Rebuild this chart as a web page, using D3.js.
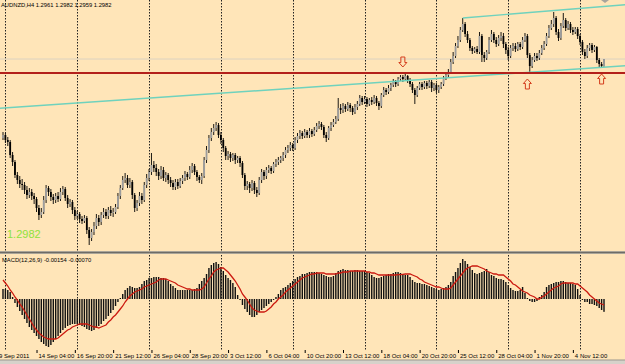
<!DOCTYPE html>
<html>
<head>
<meta charset="utf-8">
<script src="https://cdnjs.cloudflare.com/ajax/libs/d3/7.8.5/d3.min.js"></script>
<style>
  html, body { margin: 0; padding: 0; background: #ffe5b8; }
  svg { display: block; }
</style>
</head>
<body>
<div id="container"></div>
<script>
const symbolTitle = 'AUDNZD,H4  1.2961 1.2982 1.2959 1.2982';
const macdTitle = 'MACD(12,26,9) -0.00154 -0.00070';
const priceMark = '1.2982';

// H4 bars, 9 Sep 2011 20:00 .. 8 Nov 2011 16:00
const firstOpen = 1.2745;
const closes = [
  1.2754,1.2739,1.2733,1.2694,1.2673,1.2634,1.2619,1.2607,1.2604,1.2589,
  1.2574,1.2583,1.2571,1.2562,1.2535,1.2514,1.2523,1.2559,1.2595,1.2583,
  1.2568,1.2559,1.2571,1.2562,1.2583,1.2592,1.2565,1.2547,1.2553,1.2529,
  1.2511,1.2517,1.2502,1.2496,1.2505,1.2469,1.2445,1.2463,1.2481,1.2505,
  1.2493,1.2514,1.2523,1.2511,1.2529,1.2520,1.2523,1.2538,1.2571,1.2595,
  1.2619,1.2625,1.2604,1.2613,1.2574,1.2535,1.2550,1.2571,1.2559,1.2604,
  1.2625,1.2643,1.2664,1.2655,1.2643,1.2631,1.2649,1.2625,1.2634,1.2619,
  1.2610,1.2598,1.2613,1.2601,1.2616,1.2625,1.2637,1.2628,1.2649,1.2661,
  1.2643,1.2628,1.2619,1.2631,1.2679,1.2709,1.2745,1.2763,1.2775,1.2784,
  1.2754,1.2739,1.2715,1.2691,1.2697,1.2685,1.2694,1.2679,1.2685,1.2670,
  1.2634,1.2601,1.2607,1.2595,1.2610,1.2589,1.2580,1.2619,1.2643,1.2631,
  1.2649,1.2655,1.2646,1.2667,1.2673,1.2679,1.2685,1.2694,1.2709,1.2715,
  1.2724,1.2715,1.2739,1.2751,1.2760,1.2751,1.2763,1.2754,1.2766,1.2757,
  1.2769,1.2781,1.2787,1.2778,1.2754,1.2745,1.2775,1.2784,1.2793,1.2802,
  1.2835,1.2829,1.2841,1.2832,1.2844,1.2835,1.2823,1.2838,1.2847,1.2865,
  1.2853,1.2862,1.2847,1.2859,1.2853,1.2865,1.2850,1.2841,1.2874,1.2889,
  1.2883,1.2895,1.2904,1.2913,1.2907,1.2922,1.2928,1.2922,1.2931,1.2919,
  1.2907,1.2889,1.2874,1.2895,1.2907,1.2898,1.2910,1.2901,1.2913,1.2895,
  1.2904,1.2889,1.2898,1.2907,1.2925,1.2934,1.2943,1.2973,1.2991,1.3021,
  1.3039,1.3069,1.3087,1.3057,1.3039,1.3015,1.3006,1.3012,1.3003,1.3051,
  1.2994,1.2985,1.3003,1.3039,1.3057,1.3039,1.3027,1.3045,1.3051,1.3027,
  1.3009,1.2991,1.3015,1.3021,1.3012,1.3027,1.3018,1.3039,1.3051,1.2994,
  1.2961,1.2979,1.2991,1.2985,1.3000,1.3015,1.3027,1.3051,1.3075,1.3087,
  1.3105,1.3063,1.3045,1.3081,1.3099,1.3075,1.3087,1.3069,1.3063,1.3072,
  1.3051,1.3033,1.3003,1.2991,1.3015,1.3024,1.3009,1.3018,1.2979,1.2967,
  1.2961,1.2982
];
const highs = [
  1.2763,1.2760,1.2748,1.2739,1.2703,1.2679,1.2643,1.2631,1.2622,1.2613,
  1.2601,1.2595,1.2592,1.2580,1.2568,1.2544,1.2535,1.2571,1.2604,1.2601,
  1.2592,1.2577,1.2580,1.2583,1.2595,1.2601,1.2598,1.2574,1.2562,1.2559,
  1.2538,1.2526,1.2523,1.2511,1.2514,1.2511,1.2478,1.2472,1.2493,1.2517,
  1.2514,1.2523,1.2535,1.2532,1.2538,1.2541,1.2535,1.2547,1.2580,1.2604,
  1.2631,1.2640,1.2634,1.2625,1.2619,1.2580,1.2559,1.2583,1.2580,1.2613,
  1.2637,1.2652,1.2700,1.2676,1.2667,1.2652,1.2661,1.2658,1.2643,1.2640,
  1.2628,1.2619,1.2622,1.2622,1.2625,1.2634,1.2646,1.2643,1.2661,1.2670,
  1.2667,1.2649,1.2634,1.2640,1.2688,1.2721,1.2754,1.2775,1.2787,1.2793,
  1.2790,1.2763,1.2745,1.2721,1.2706,1.2703,1.2700,1.2700,1.2691,1.2691,
  1.2676,1.2640,1.2616,1.2613,1.2619,1.2616,1.2598,1.2628,1.2652,1.2649,
  1.2658,1.2664,1.2661,1.2673,1.2682,1.2688,1.2691,1.2703,1.2718,1.2724,
  1.2733,1.2730,1.2748,1.2760,1.2769,1.2766,1.2772,1.2769,1.2775,1.2772,
  1.2778,1.2790,1.2796,1.2793,1.2784,1.2763,1.2781,1.2793,1.2802,1.2811,
  1.2865,1.2847,1.2850,1.2847,1.2853,1.2850,1.2841,1.2847,1.2856,1.2874,
  1.2871,1.2871,1.2868,1.2865,1.2868,1.2874,1.2871,1.2856,1.2880,1.2898,
  1.2895,1.2904,1.2910,1.2922,1.2919,1.2928,1.2934,1.2934,1.2937,1.2934,
  1.2925,1.2913,1.2895,1.2901,1.2913,1.2913,1.2916,1.2916,1.2919,1.2919,
  1.2910,1.2910,1.2904,1.2913,1.2931,1.2940,1.2952,1.2982,1.3003,1.3030,
  1.3051,1.3078,1.3105,1.3093,1.3066,1.3045,1.3021,1.3018,1.3021,1.3063,
  1.3057,1.3003,1.3009,1.3048,1.3069,1.3063,1.3048,1.3054,1.3063,1.3060,
  1.3033,1.3018,1.3024,1.3030,1.3030,1.3033,1.3033,1.3048,1.3060,1.3057,
  1.3000,1.2988,1.3000,1.3000,1.3009,1.3024,1.3036,1.3060,1.3084,1.3099,
  1.3123,1.3111,1.3072,1.3090,1.3120,1.3105,1.3096,1.3093,1.3078,1.3078,
  1.3078,1.3057,1.3039,1.3012,1.3024,1.3030,1.3030,1.3024,1.3021,1.2985,
  1.2973,1.2982
];
const lows = [
  1.2739,1.2730,1.2721,1.2685,1.2661,1.2625,1.2607,1.2595,1.2589,1.2577,
  1.2562,1.2565,1.2559,1.2547,1.2523,1.2499,1.2505,1.2517,1.2550,1.2571,
  1.2556,1.2547,1.2550,1.2553,1.2556,1.2574,1.2556,1.2535,1.2538,1.2517,
  1.2499,1.2502,1.2490,1.2487,1.2490,1.2457,1.2424,1.2436,1.2454,1.2472,
  1.2481,1.2484,1.2505,1.2502,1.2502,1.2511,1.2508,1.2517,1.2532,1.2562,
  1.2589,1.2610,1.2595,1.2595,1.2562,1.2523,1.2526,1.2541,1.2547,1.2553,
  1.2595,1.2616,1.2634,1.2643,1.2631,1.2619,1.2622,1.2616,1.2613,1.2607,
  1.2598,1.2589,1.2589,1.2592,1.2595,1.2607,1.2616,1.2619,1.2622,1.2640,
  1.2634,1.2616,1.2610,1.2607,1.2625,1.2670,1.2700,1.2736,1.2754,1.2766,
  1.2745,1.2727,1.2703,1.2679,1.2679,1.2673,1.2676,1.2667,1.2670,1.2658,
  1.2625,1.2589,1.2589,1.2580,1.2586,1.2577,1.2568,1.2574,1.2610,1.2619,
  1.2622,1.2640,1.2637,1.2640,1.2658,1.2664,1.2670,1.2676,1.2685,1.2700,
  1.2706,1.2706,1.2709,1.2730,1.2742,1.2742,1.2745,1.2745,1.2745,1.2748,
  1.2751,1.2763,1.2772,1.2769,1.2745,1.2733,1.2739,1.2766,1.2778,1.2787,
  1.2796,1.2817,1.2820,1.2823,1.2826,1.2823,1.2814,1.2817,1.2829,1.2841,
  1.2844,1.2847,1.2838,1.2841,1.2844,1.2847,1.2841,1.2829,1.2835,1.2868,
  1.2874,1.2877,1.2886,1.2898,1.2898,1.2901,1.2916,1.2913,1.2916,1.2910,
  1.2898,1.2880,1.2847,1.2868,1.2889,1.2889,1.2892,1.2892,1.2895,1.2883,
  1.2886,1.2880,1.2880,1.2892,1.2901,1.2919,1.2928,1.2937,1.2967,1.2985,
  1.3015,1.3033,1.3063,1.3048,1.3030,1.3006,1.2997,1.3000,1.2997,1.2997,
  1.2973,1.2973,1.2979,1.2997,1.3033,1.3030,1.3018,1.3021,1.3036,1.3015,
  1.2997,1.2979,1.2985,1.3006,1.3003,1.3006,1.3009,1.3012,1.3033,1.2985,
  1.2943,1.2955,1.2973,1.2976,1.2979,1.2994,1.3009,1.3021,1.3045,1.3069,
  1.3078,1.3054,1.3036,1.3039,1.3075,1.3066,1.3069,1.3060,1.3054,1.3057,
  1.3042,1.3024,1.2994,1.2982,1.2985,1.3006,1.3000,1.3003,1.2970,1.2958,
  1.2955,1.2959
];

// MACD(12,26,9), in units of 0.00001
const macdMain = [
  120,120,108,84,24,-48,-96,-144,-192,-240,
  -288,-336,-372,-408,-444,-480,-516,-540,-564,-576,
  -552,-516,-480,-444,-408,-372,-348,-324,-312,-300,
  -300,-300,-312,-324,-336,-360,-372,-384,-372,-348,
  -324,-300,-264,-240,-204,-168,-132,-84,-36,12,
  60,108,132,156,144,132,132,144,180,216,
  228,252,252,264,264,264,252,252,240,216,
  180,156,132,108,108,108,108,108,108,108,
  120,132,180,216,252,300,372,408,432,444,
  420,384,336,288,252,228,192,144,48,-12,
  -72,-120,-156,-192,-216,-216,-192,-156,-132,-108,
  -84,-60,-36,-12,24,60,108,132,144,168,
  192,216,240,264,276,300,300,312,324,324,
  324,324,312,300,288,276,264,264,276,312,
  336,348,360,348,348,336,336,348,348,336,
  336,336,324,312,288,264,252,252,264,276,
  288,300,300,312,324,324,312,300,288,288,
  264,228,204,192,192,180,180,168,156,144,
  132,120,108,120,132,144,168,204,276,324,
  372,432,480,456,420,384,348,312,300,312,
  324,336,360,324,288,276,252,240,240,228,
  204,168,132,108,96,96,108,144,72,12,
  -24,-36,-36,-24,24,48,84,144,168,180,
  192,204,204,216,216,204,192,192,180,168,
  120,48,-12,-36,-36,-60,-60,-72,-84,-108,
  -132,-154
];
const macdSignal = [
  228,192,156,108,72,24,-12,-60,-96,-144,
  -192,-240,-288,-336,-372,-408,-432,-456,-468,-480,
  -480,-480,-480,-468,-444,-420,-396,-372,-360,-336,
  -324,-312,-300,-300,-300,-300,-312,-324,-336,-336,
  -348,-336,-324,-312,-276,-252,-216,-192,-156,-120,
  -84,-36,0,36,60,84,96,108,120,144,
  156,168,180,192,204,228,240,240,240,228,
  216,204,192,168,156,144,132,120,120,108,
  108,108,108,120,144,192,240,276,324,348,
  360,372,372,348,324,288,252,216,168,120,
  60,24,-12,-60,-108,-132,-144,-156,-156,-156,
  -144,-120,-96,-60,-36,0,24,48,84,108,
  132,156,180,204,228,252,264,276,288,300,
  300,312,312,312,312,300,300,300,300,300,
  312,312,324,324,324,336,336,336,336,336,
  336,336,324,324,312,312,300,288,288,288,
  288,288,288,288,288,292,292,296,300,300,
  300,288,276,264,240,228,204,192,180,168,
  156,144,144,132,120,120,120,132,168,204,
  240,276,312,348,372,384,396,396,396,384,
  372,360,336,324,312,300,300,288,288,288,
  264,240,216,180,168,144,120,96,84,72,
  48,36,24,0,0,24,36,60,84,108,
  132,144,156,180,192,192,192,192,192,180,
  180,156,132,108,84,48,24,0,-24,-48,
  -60,-70
];

const firstLabel = '9 Sep 2011';
const tickBars = [14, 30, 46, 62, 78, 94, 110, 126, 142, 158, 174, 190, 206, 222, 238];
const tickLabels = ['14 Sep 04:00', '16 Sep 20:00', '21 Sep 12:00', '26 Sep 04:00', '28 Sep 20:00',
  '3 Oct 12:00', '6 Oct 04:00', '10 Oct 20:00', '13 Oct 12:00', '18 Oct 04:00',
  '20 Oct 20:00', '25 Oct 12:00', '28 Oct 04:00', '1 Nov 20:00', '4 Nov 12:00'];
const weekStarts = [1, 31, 61, 91, 121, 151, 181, 211, 241];

// chart objects: [bar, price]
const supportLevel = 1.2940;
const trendLower = [[0, 1.2835], [250, 1.2957]];
const trendUpper = [[192, 1.3105], [250, 1.3139]];
const arrowsDown = [[167, 1.2958]];
const arrowsUp = [[219, 1.2922], [250, 1.2937]];

const W = 625, H = 364;
const font = 'Liberation Sans, Arial, sans-serif';

const svg = d3.select('#container')
  .append('svg')
  .attr('width', W)
  .attr('height', H);

svg.append('rect').attr('width', W).attr('height', H).attr('fill', '#ffe5b8');

const x = d3.scaleLinear().domain([0, closes.length - 1]).range([3, 604]);
const y = d3.scaleLinear().domain([1.2400, 1.3150]).range([253, 3]);
const yM = d3.scaleLinear().domain([-600, 552]).range([349, 253]);

const defs = svg.append('defs');
defs.append('clipPath').attr('id', 'clipMain')
  .append('rect').attr('x', 0).attr('y', 0).attr('width', W).attr('height', 251);
defs.append('clipPath').attr('id', 'clipMacd')
  .append('rect').attr('x', 0).attr('y', 254).attr('width', W).attr('height', 95);

// weekly separators
svg.append('g')
  .selectAll('line')
  .data(weekStarts)
  .join('line')
  .attr('x1', d => Math.round(x(d)) + 0.5)
  .attr('x2', d => Math.round(x(d)) + 0.5)
  .attr('y1', 0)
  .attr('y2', 350)
  .attr('stroke', '#222')
  .attr('stroke-width', 1)
  .attr('stroke-dasharray', '1.5,1.5');

const main = svg.append('g').attr('clip-path', 'url(#clipMain)');

// bid line
main.append('line')
  .attr('x1', 0).attr('x2', W)
  .attr('y1', y(closes[closes.length - 1])).attr('y2', y(closes[closes.length - 1]))
  .attr('stroke', '#dcd2c0').attr('stroke-width', 1);

const opens = closes.map((c, i) => i ? closes[i - 1] : firstOpen);
const bars = d3.range(closes.length);

main.append('g')
  .selectAll('line')
  .data(bars)
  .join('line')
  .attr('x1', i => x(i)).attr('x2', i => x(i))
  .attr('y1', i => y(highs[i])).attr('y2', i => y(lows[i]))
  .attr('stroke', '#000').attr('stroke-width', 0.9);

main.append('g')
  .selectAll('rect')
  .data(bars)
  .join('rect')
  .attr('x', i => x(i) - 0.9)
  .attr('width', 1.8)
  .attr('y', i => y(Math.max(opens[i], closes[i])))
  .attr('height', i => Math.max(0.8, Math.abs(y(opens[i]) - y(closes[i]))))
  .attr('fill', i => closes[i] >= opens[i] ? '#9d9d9d' : '#000');

// trend lines (extended as rays)
const lineAt = (seg, b) => {
  const [[b0, p0], [b1, p1]] = seg;
  return p0 + (b - b0) * (p1 - p0) / (b1 - b0);
};
[[trendLower, -3], [trendUpper, trendUpper[0][0]]].forEach(([seg, from]) => {
  main.append('line')
    .attr('x1', x(from)).attr('y1', y(lineAt(seg, from)))
    .attr('x2', x(264)).attr('y2', y(lineAt(seg, 264)))
    .attr('stroke', '#6fd2bd').attr('stroke-width', 1.4);
});

main.append('line')
  .attr('x1', 0).attr('x2', W)
  .attr('y1', y(supportLevel)).attr('y2', y(supportLevel))
  .attr('stroke', '#b3201a').attr('stroke-width', 2);

// arrows
const arrowDown = 'M-2,-10H2V-4.5H4L0,0L-4,-4.5H-2Z';
const arrowUp = 'M-2,10H2V4.5H4L0,0L-4,4.5H-2Z';
main.append('g').selectAll('path')
  .data(arrowsDown.map(d => ({ d, p: arrowDown })).concat(arrowsUp.map(d => ({ d, p: arrowUp }))))
  .join('path')
  .attr('transform', a => `translate(${x(a.d[0])},${y(a.d[1])})`)
  .attr('d', a => a.p)
  .attr('fill', 'none')
  .attr('stroke', '#d43c1c')
  .attr('stroke-width', 1);

// top right shift marker
svg.append('path').attr('d', 'M601,0H609L605,3Z').attr('fill', '#a8a49c');

// texts on main window
svg.append('text').attr('x', 1).attr('y', 7)
  .attr('font-family', font).attr('font-size', 5.8).attr('fill', '#000')
  .text(symbolTitle);
svg.append('text').attr('x', 7).attr('y', 238)
  .attr('font-family', font).attr('font-size', 11).attr('fill', '#8ee23c')
  .text(priceMark);

// splitter between windows
svg.append('rect').attr('x', 0).attr('y', 251).attr('width', W).attr('height', 3).attr('fill', '#a9a498');
svg.append('line').attr('x1', 0).attr('x2', W).attr('y1', 252.5).attr('y2', 252.5)
  .attr('stroke', '#6e6c66').attr('stroke-width', 1);

// MACD window
const macdG = svg.append('g').attr('clip-path', 'url(#clipMacd)');
macdG.append('g')
  .selectAll('rect')
  .data(bars)
  .join('rect')
  .attr('x', i => x(i) - 0.7)
  .attr('width', 1.4)
  .attr('y', i => yM(Math.max(0, macdMain[i])))
  .attr('height', i => Math.abs(yM(macdMain[i]) - yM(0)))
  .attr('fill', '#111');

macdG.append('path')
  .datum(macdSignal)
  .attr('d', d3.line().x((d, i) => x(i)).y(d => yM(d)))
  .attr('fill', 'none')
  .attr('stroke', '#cc1a10')
  .attr('stroke-width', 1.3);

svg.append('text').attr('x', 2).attr('y', 262)
  .attr('font-family', font).attr('font-size', 5.8).attr('fill', '#000')
  .text(macdTitle);

// time axis
const xAxis = d3.axisBottom(x)
  .tickValues(tickBars)
  .tickFormat((d, i) => tickLabels[i])
  .tickSize(3)
  .tickSizeOuter(0);

const gx = svg.append('g')
  .attr('transform', 'translate(0,350)')
  .call(xAxis);
gx.attr('font-family', font).attr('font-size', 6);
gx.select('.domain').remove();
gx.selectAll('.tick line').attr('stroke', '#000');
gx.selectAll('.tick text')
  .attr('text-anchor', 'start')
  .attr('x', 1.5)
  .attr('y', 3.5)
  .attr('fill', '#000');

svg.append('text').attr('x', -1).attr('y', 358)
  .attr('font-family', font).attr('font-size', 6).attr('fill', '#000')
  .text(firstLabel);

// window frame at bottom
svg.append('rect').attr('x', 0).attr('y', 360).attr('width', W).attr('height', 4).attr('fill', '#d6d2ca');
svg.append('line').attr('x1', 0).attr('x2', W).attr('y1', 360).attr('y2', 360)
  .attr('stroke', '#9a978f').attr('stroke-width', 1);
</script>
</body>
</html>
